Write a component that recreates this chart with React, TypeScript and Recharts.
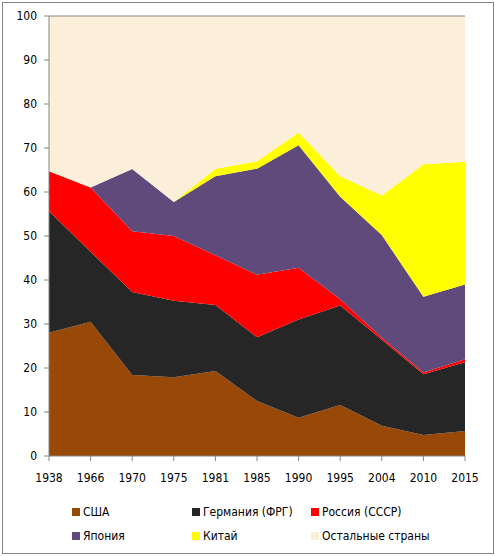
import React from "react";
import { AreaChart, Area, XAxis, YAxis, ReferenceLine } from "recharts";

const years = ["1938", "1966", "1970", "1975", "1981", "1985", "1990", "1995", "2004", "2010", "2015"];

const usa = [28.0, 30.5, 18.4, 17.9, 19.3, 12.5, 8.7, 11.6, 6.9, 4.8, 5.7];
const germany = [27.6, 15.9, 18.9, 17.4, 15.0, 14.5, 22.3, 22.6, 19.5, 13.8, 15.6];
const russia = [9.1, 14.6, 13.8, 14.7, 11.3, 14.2, 11.8, 1.4, 0.5, 0.4, 0.7];
const japan = [0, 0, 14.1, 7.7, 18.0, 24.1, 27.8, 23.3, 23.3, 17.2, 17.0];
const china = [0, 0, 0, 0, 1.7, 1.7, 2.9, 4.7, 9.0, 30.1, 27.9];
const others = [35.3, 39.0, 34.8, 42.3, 34.7, 33.0, 26.5, 36.4, 40.8, 33.7, 33.1];

const yTicks = [0, 10, 20, 30, 40, 50, 60, 70, 80, 90, 100];

const series = [
  { key: "usa", name: "США", color: "#984807", values: usa },
  { key: "germany", name: "Германия (ФРГ)", color: "#262626", values: germany },
  { key: "russia", name: "Россия (СССР)", color: "#ff0000", values: russia },
  { key: "japan", name: "Япония", color: "#604a7b", values: japan },
  { key: "china", name: "Китай", color: "#ffff00", values: china },
  { key: "others", name: "Остальные страны", color: "#fcefd9", values: others },
];

const data = years.map((year, i) => {
  const row: Record<string, string | number> = { year };
  series.forEach((s) => {
    row[s.key] = s.values[i];
  });
  return row;
});

const font = "'DejaVu Sans Condensed', 'DejaVu Sans', sans-serif";
const axisColor = "#868686";

// legend columns, row-major like the original
const legendCols = [72, 192, 311];
const legendRows = [512, 536];

export default function App() {
  return (
    <div
      style={{
        position: "absolute",
        left: 0,
        top: 0,
        width: 495,
        height: 556,
        background: "#fff",
        fontFamily: font,
      }}
    >
      <div
        style={{
          position: "absolute",
          left: 2,
          top: 2,
          width: 490,
          height: 550,
          border: `1px solid ${axisColor}`,
        }}
      />
      <div style={{ position: "absolute", left: 0, top: 0 }}>
        <AreaChart
          width={495}
          height={556}
          data={data}
          margin={{ top: 16, right: 30, left: 0, bottom: 70 }}
        >
          {series.map((s) => (
            <Area
              key={s.key}
              type="linear"
              dataKey={s.key}
              name={s.name}
              stackId="1"
              fill={s.color}
              fillOpacity={1}
              stroke="none"
              isAnimationActive={false}
            />
          ))}
          <ReferenceLine y={100} stroke={axisColor} strokeWidth={1} />
          <XAxis
            dataKey="year"
            height={30}
            stroke={axisColor}
            tickSize={5}
            tickMargin={12}
            interval={0}
            tick={{ fill: "#000", fontSize: 12, fontFamily: font }}
          />
          <YAxis
            width={49}
            domain={[0, 100]}
            ticks={yTicks}
            stroke={axisColor}
            tickSize={5}
            tickMargin={7}
            interval={0}
            tick={{ fill: "#000", fontSize: 12, fontFamily: font }}
          />
        </AreaChart>
      </div>
      {series.map((s, i) => {
        const x = legendCols[i % 3];
        const y = legendRows[Math.floor(i / 3)];
        return (
          <div
            key={s.key}
            style={{
              position: "absolute",
              left: x,
              top: y - 8,
              height: 16,
              display: "flex",
              alignItems: "center",
              fontSize: 12,
              color: "#000",
              whiteSpace: "nowrap",
            }}
          >
            <span
              style={{
                display: "inline-block",
                width: 8,
                height: 8,
                background: s.color,
                marginRight: 3,
              }}
            />
            {s.name}
          </div>
        );
      })}
    </div>
  );
}
